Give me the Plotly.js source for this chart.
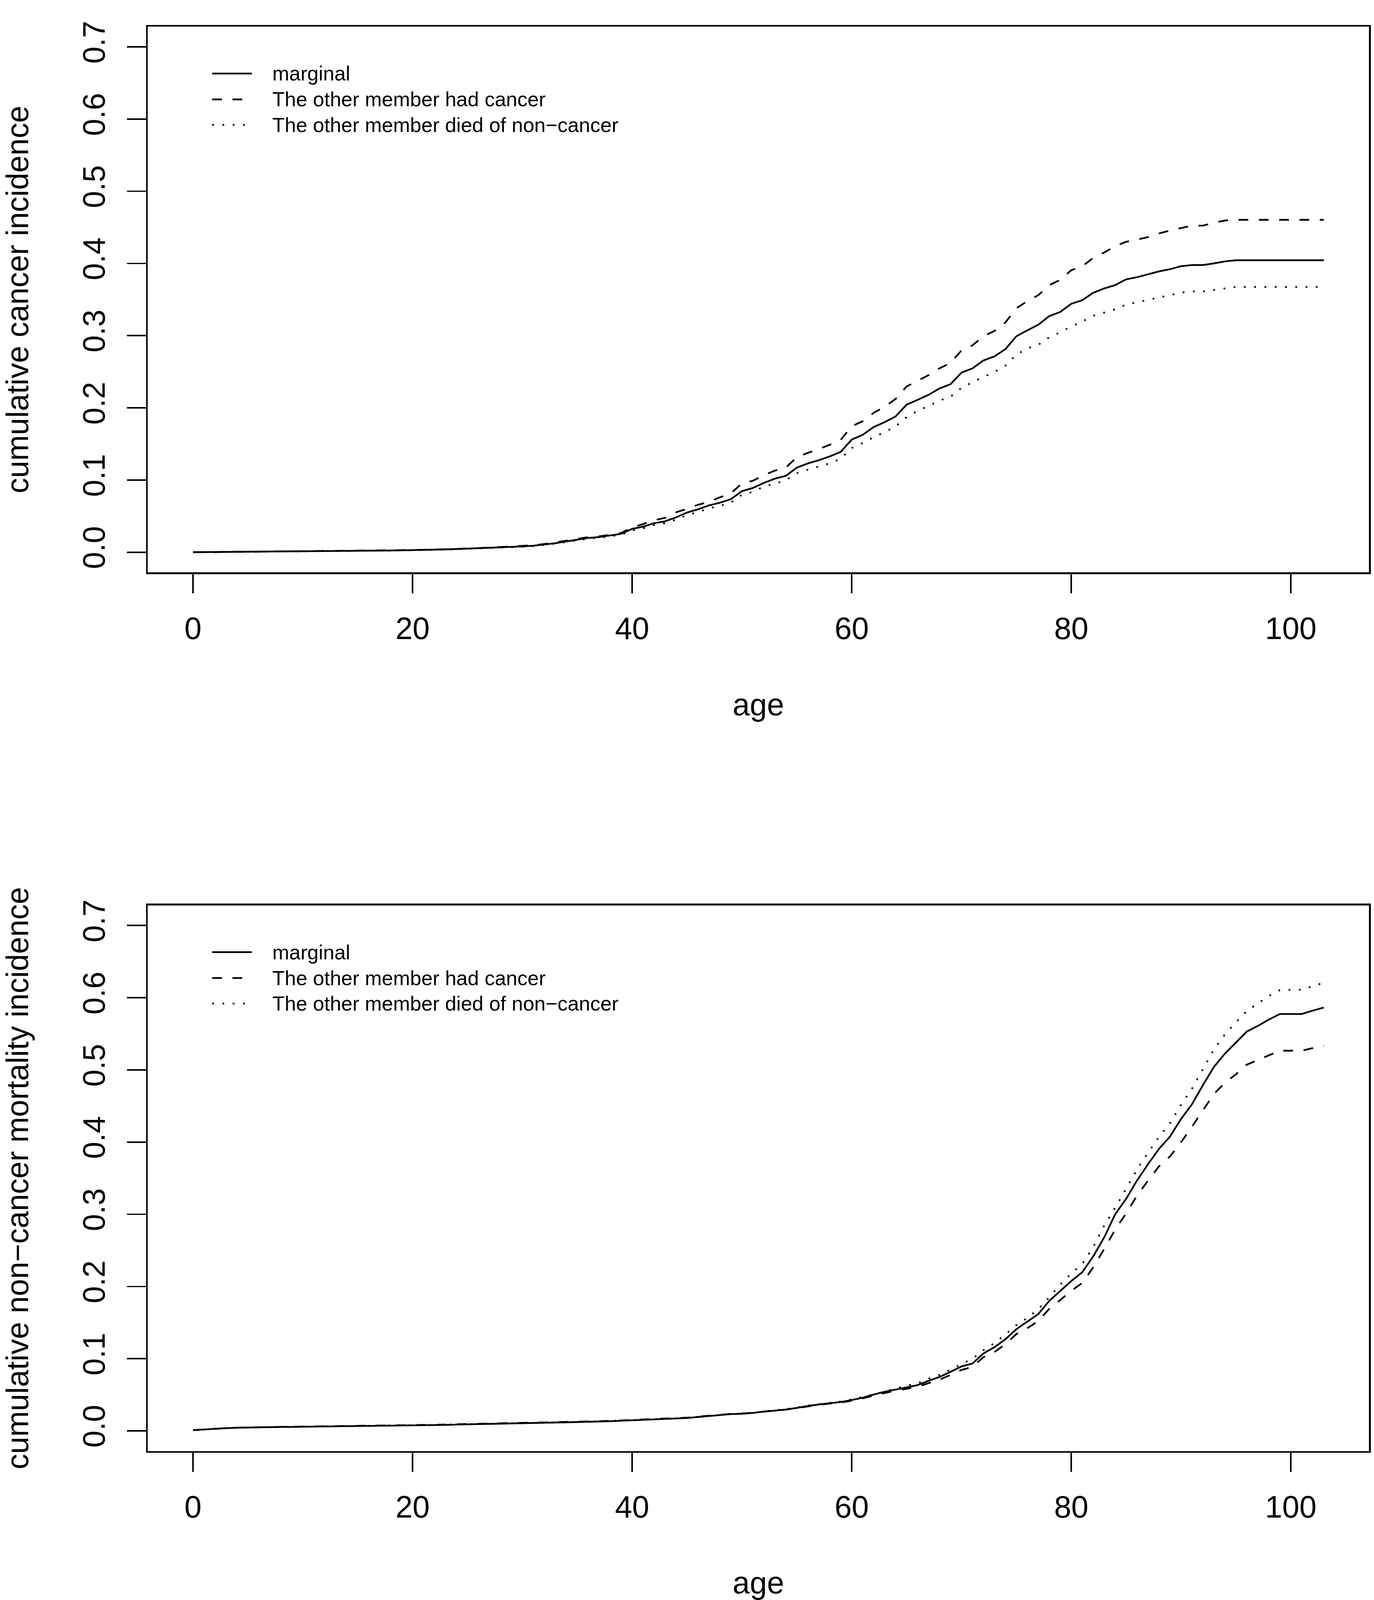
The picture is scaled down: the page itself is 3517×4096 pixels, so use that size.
<!DOCTYPE html>
<html>
<head>
<meta charset="utf-8">
<script src="https://cdn.plot.ly/plotly-3.0.1.min.js"></script>
<style>
  html, body { margin: 0; padding: 0; background: #ffffff; }
  #chart { width: 3517px; height: 4096px; }
</style>
</head>
<body>
<div id="chart"></div>
<script>
// ---------------- data ----------------
const age = [0,1,2,3,4,5,6,7,8,9,10,11,12,13,14,15,16,17,18,19,20,21,22,23,24,25,26,27,28,29,30,31,32,33,34,35,36,37,38,39,40,41,42,43,44,45,46,47,48,49,50,51,52,53,54,55,56,57,58,59,60,61,62,63,64,65,66,67,68,69,70,71,72,73,74,75,76,77,78,79,80,81,82,83,84,85,86,87,88,89,90,91,92,93,94,95,96,97,98,99,100,101,102,103];

const seriesNames = ['marginal', 'The other member had cancer', 'The other member died of non\u2212cancer'];

// top panel: cumulative cancer incidence
const cancerMarginal = [0.0000,0.0001,0.0002,0.0003,0.0004,0.0005,0.0007,0.0008,0.0010,0.0012,0.0014,0.0016,0.0018,0.0019,0.0020,0.0021,0.0022,0.0023,0.0024,0.0026,0.0028,0.0031,0.0035,0.0039,0.0044,0.0049,0.0054,0.0060,0.0067,0.0073,0.0080,0.0090,0.0105,0.0125,0.0150,0.0176,0.0198,0.0210,0.0232,0.0254,0.0324,0.0354,0.0402,0.0428,0.0483,0.0550,0.0594,0.0649,0.0686,0.0735,0.0846,0.0890,0.0960,0.1019,0.1058,0.1172,0.1230,0.1274,0.1327,0.1390,0.1560,0.1626,0.1734,0.1802,0.1881,0.2044,0.2110,0.2180,0.2269,0.2327,0.2487,0.2547,0.2656,0.2712,0.2813,0.2991,0.3074,0.3152,0.3271,0.3329,0.3441,0.3491,0.3594,0.3654,0.3700,0.3780,0.3810,0.3850,0.3890,0.3920,0.3962,0.3978,0.3978,0.4001,0.4029,0.4044,0.4044,0.4044,0.4044,0.4044,0.4044,0.4044,0.4044,0.4044];
const cancerHadCancer = [0.0000,0.0001,0.0002,0.0003,0.0004,0.0005,0.0007,0.0008,0.0010,0.0012,0.0014,0.0016,0.0018,0.0019,0.0021,0.0022,0.0023,0.0024,0.0026,0.0028,0.0030,0.0033,0.0037,0.0041,0.0046,0.0052,0.0057,0.0064,0.0071,0.0078,0.0086,0.0097,0.0113,0.0134,0.0160,0.0186,0.0208,0.0221,0.0240,0.0266,0.0343,0.0390,0.0443,0.0476,0.0553,0.0601,0.0657,0.0698,0.0761,0.0816,0.0953,0.0990,0.1067,0.1130,0.1172,0.1316,0.1376,0.1428,0.1488,0.1555,0.1745,0.1815,0.1930,0.2015,0.2123,0.2296,0.2372,0.2453,0.2547,0.2623,0.2795,0.2865,0.2992,0.3065,0.3182,0.3379,0.3479,0.3561,0.3700,0.3773,0.3906,0.3960,0.4078,0.4151,0.4240,0.4300,0.4330,0.4365,0.4415,0.4457,0.4490,0.4524,0.4524,0.4565,0.4595,0.4604,0.4604,0.4604,0.4604,0.4604,0.4604,0.4604,0.4604,0.4604];
const cancerOtherDied = [0.0000,0.0001,0.0002,0.0003,0.0004,0.0005,0.0006,0.0008,0.0009,0.0011,0.0013,0.0015,0.0017,0.0018,0.0019,0.0020,0.0021,0.0022,0.0023,0.0025,0.0027,0.0029,0.0033,0.0037,0.0041,0.0046,0.0051,0.0057,0.0063,0.0069,0.0076,0.0085,0.0099,0.0118,0.0142,0.0167,0.0188,0.0200,0.0221,0.0241,0.0302,0.0330,0.0376,0.0402,0.0452,0.0515,0.0557,0.0607,0.0643,0.0688,0.0795,0.0835,0.0910,0.0949,0.0998,0.1095,0.1143,0.1186,0.1231,0.1295,0.1443,0.1512,0.1594,0.1664,0.1742,0.1872,0.1957,0.2027,0.2100,0.2154,0.2275,0.2356,0.2429,0.2496,0.2584,0.2738,0.2822,0.2874,0.2977,0.3046,0.3128,0.3195,0.3274,0.3319,0.3365,0.3430,0.3460,0.3495,0.3530,0.3560,0.3597,0.3612,0.3612,0.3635,0.3658,0.3675,0.3675,0.3675,0.3675,0.3675,0.3675,0.3675,0.3675,0.3675];

// bottom panel: cumulative non-cancer mortality incidence
const mortMarginal = [0.0010,0.0020,0.0030,0.0037,0.0043,0.0047,0.0050,0.0052,0.0054,0.0055,0.0057,0.0059,0.0061,0.0063,0.0065,0.0066,0.0068,0.0069,0.0070,0.0071,0.0072,0.0074,0.0078,0.0082,0.0087,0.0090,0.0093,0.0095,0.0097,0.0100,0.0103,0.0105,0.0107,0.0110,0.0115,0.0122,0.0126,0.0128,0.0133,0.0140,0.0146,0.0153,0.0158,0.0163,0.0170,0.0178,0.0192,0.0205,0.0222,0.0232,0.0237,0.0248,0.0266,0.0280,0.0295,0.0318,0.0345,0.0365,0.0384,0.0400,0.0427,0.0459,0.0502,0.0542,0.0572,0.0605,0.0634,0.0693,0.0747,0.0817,0.0892,0.0933,0.1072,0.1159,0.1269,0.1409,0.1511,0.1618,0.1801,0.1941,0.2075,0.2197,0.2417,0.2680,0.3000,0.3215,0.3470,0.3696,0.3908,0.4078,0.4320,0.4525,0.4791,0.5043,0.5226,0.5379,0.5532,0.5609,0.5697,0.5774,0.5774,0.5774,0.5821,0.5864];
const mortHadCancer = [0.0010,0.0020,0.0031,0.0038,0.0044,0.0048,0.0051,0.0053,0.0055,0.0057,0.0059,0.0061,0.0063,0.0065,0.0067,0.0069,0.0071,0.0072,0.0074,0.0075,0.0077,0.0079,0.0083,0.0087,0.0092,0.0095,0.0098,0.0100,0.0102,0.0105,0.0108,0.0110,0.0112,0.0115,0.0120,0.0127,0.0131,0.0133,0.0138,0.0145,0.0151,0.0158,0.0163,0.0168,0.0175,0.0183,0.0197,0.0210,0.0226,0.0236,0.0241,0.0251,0.0268,0.0281,0.0295,0.0316,0.0341,0.0360,0.0378,0.0392,0.0418,0.0450,0.0489,0.0526,0.0558,0.0583,0.0610,0.0661,0.0710,0.0774,0.0844,0.0887,0.1021,0.1091,0.1201,0.1341,0.1422,0.1521,0.1691,0.1812,0.1941,0.2048,0.2264,0.2519,0.2788,0.3013,0.3260,0.3468,0.3666,0.3802,0.3997,0.4214,0.4438,0.4668,0.4821,0.4939,0.5073,0.5139,0.5202,0.5266,0.5266,0.5266,0.5302,0.5332];
const mortOtherDied = [0.0010,0.0020,0.0030,0.0038,0.0044,0.0048,0.0051,0.0053,0.0055,0.0056,0.0058,0.0060,0.0062,0.0064,0.0066,0.0068,0.0070,0.0071,0.0072,0.0073,0.0075,0.0077,0.0081,0.0085,0.0090,0.0093,0.0096,0.0098,0.0100,0.0103,0.0106,0.0108,0.0110,0.0113,0.0118,0.0125,0.0129,0.0131,0.0136,0.0143,0.0149,0.0156,0.0161,0.0166,0.0173,0.0181,0.0195,0.0208,0.0225,0.0235,0.0240,0.0251,0.0270,0.0284,0.0300,0.0323,0.0350,0.0370,0.0390,0.0407,0.0435,0.0467,0.0505,0.0545,0.0586,0.0626,0.0658,0.0723,0.0774,0.0852,0.0925,0.1000,0.1118,0.1215,0.1336,0.1465,0.1565,0.1686,0.1852,0.2027,0.2178,0.2312,0.2546,0.2842,0.3090,0.3355,0.3623,0.3854,0.4073,0.4264,0.4516,0.4741,0.5010,0.5283,0.5492,0.5659,0.5817,0.5923,0.6024,0.6105,0.6111,0.6111,0.6158,0.6207];

const xTickVals = [0, 20, 40, 60, 80, 100];
const yTickVals = [0, 0.1, 0.2, 0.3, 0.4, 0.5, 0.6, 0.7];
const xTitle = 'age';
const yTitleTop = 'cumulative cancer incidence';
const yTitleBottom = 'cumulative non\u2212cancer mortality incidence';

// ---------------- styling ----------------
const S = 0.975;
const FONT = 'Liberation Sans, Arial, Helvetica, sans-serif';
const LW = 4.4;
const dashStyles = ['solid', '25px,27px', '4.5px,21.8px'];
const W = 3517, H = 4096;

function px2paperX(p) { return p / W; }
function px2paperY(p) { return 1 - p / H; }

const xDomain = [px2paperX(388 * S), px2paperX(3594 * S)];
const topDomain = [px2paperY(1503 * S), px2paperY(70 * S)];
const botDomain = [px2paperY(3810 * S), px2paperY(2377 * S)];

const panels = [
  {ys: [cancerMarginal, cancerHadCancer, cancerOtherDied], xa: 'x', ya: 'y'},
  {ys: [mortMarginal, mortHadCancer, mortOtherDied], xa: 'x2', ya: 'y2'}
];

const traces = [];
panels.forEach(function (p) {
  p.ys.forEach(function (vals, i) {
    traces.push({
      type: 'scatter', mode: 'lines', x: age, y: vals,
      name: seriesNames[i], xaxis: p.xa, yaxis: p.ya, showlegend: false,
      line: {color: '#000000', width: LW, dash: dashStyles[i]},
      hoverinfo: 'skip'
    });
  });
});

function xAxis(domainAnchor) {
  return {
    domain: xDomain, anchor: domainAnchor, range: [-4.12, 107.12],
    tickmode: 'array', tickvals: xTickVals, ticktext: xTickVals.map(String),
    ticks: 'outside', ticklen: 49, tickwidth: 3.7, tickcolor: '#000',
    ticklabelstandoff: 22,
    showline: true, linecolor: '#000', linewidth: 4.4, mirror: true,
    showgrid: false, zeroline: false, fixedrange: true,
    tickfont: {family: FONT, size: 79, color: '#000'},
    title: {text: xTitle, font: {family: FONT, size: 79, color: '#000'}, standoff: 125}
  };
}
function yAxis(domain, anchor, title) {
  return {
    domain: domain, anchor: anchor, range: [-0.028, 0.728],
    tickmode: 'array', tickvals: yTickVals, ticktext: yTickVals.map(function (v) { return v.toFixed(1); }),
    tickangle: -90,
    ticks: 'outside', ticklen: 49, tickwidth: 3.7, tickcolor: '#000',
    ticklabelstandoff: 25,
    showline: true, linecolor: '#000', linewidth: 4.4, mirror: true,
    showgrid: false, zeroline: false, fixedrange: true,
    tickfont: {family: FONT, size: 79, color: '#000'},
    title: {text: title, font: {family: FONT, size: 79, color: '#000'}, standoff: 121}
  };
}

// manual legends (R style: long line keys, text to the right)
const legendRowsTop = [193, 261, 328];
const shapes = [];
const annotations = [];
[0, 2307].forEach(function (off) {
  legendRowsTop.forEach(function (r, i) {
    const yp = px2paperY((r + off) * S);
    shapes.push({
      type: 'line', xref: 'paper', yref: 'paper',
      x0: px2paperX(557 * S), x1: px2paperX(661 * S), y0: yp, y1: yp,
      line: {color: '#000', width: LW, dash: dashStyles[i]}
    });
    annotations.push({
      xref: 'paper', yref: 'paper', x: px2paperX(713 * S), y: yp,
      xanchor: 'left', yanchor: 'middle', showarrow: false,
      text: seriesNames[i], font: {family: FONT, size: 52, color: '#000'}
    });
  });
});

const layout = {
  width: W, height: H,
  margin: {l: 0, r: 0, t: 0, b: 0, pad: 0},
  paper_bgcolor: '#ffffff', plot_bgcolor: '#ffffff',
  showlegend: false,
  xaxis: xAxis('y'),
  yaxis: yAxis(topDomain, 'x', yTitleTop),
  xaxis2: xAxis('y2'),
  yaxis2: yAxis(botDomain, 'x2', yTitleBottom),
  shapes: shapes,
  annotations: annotations,
  font: {family: FONT, color: '#000'}
};

Plotly.newPlot('chart', traces, layout, {displayModeBar: false, staticPlot: true});
</script>
</body>
</html>
